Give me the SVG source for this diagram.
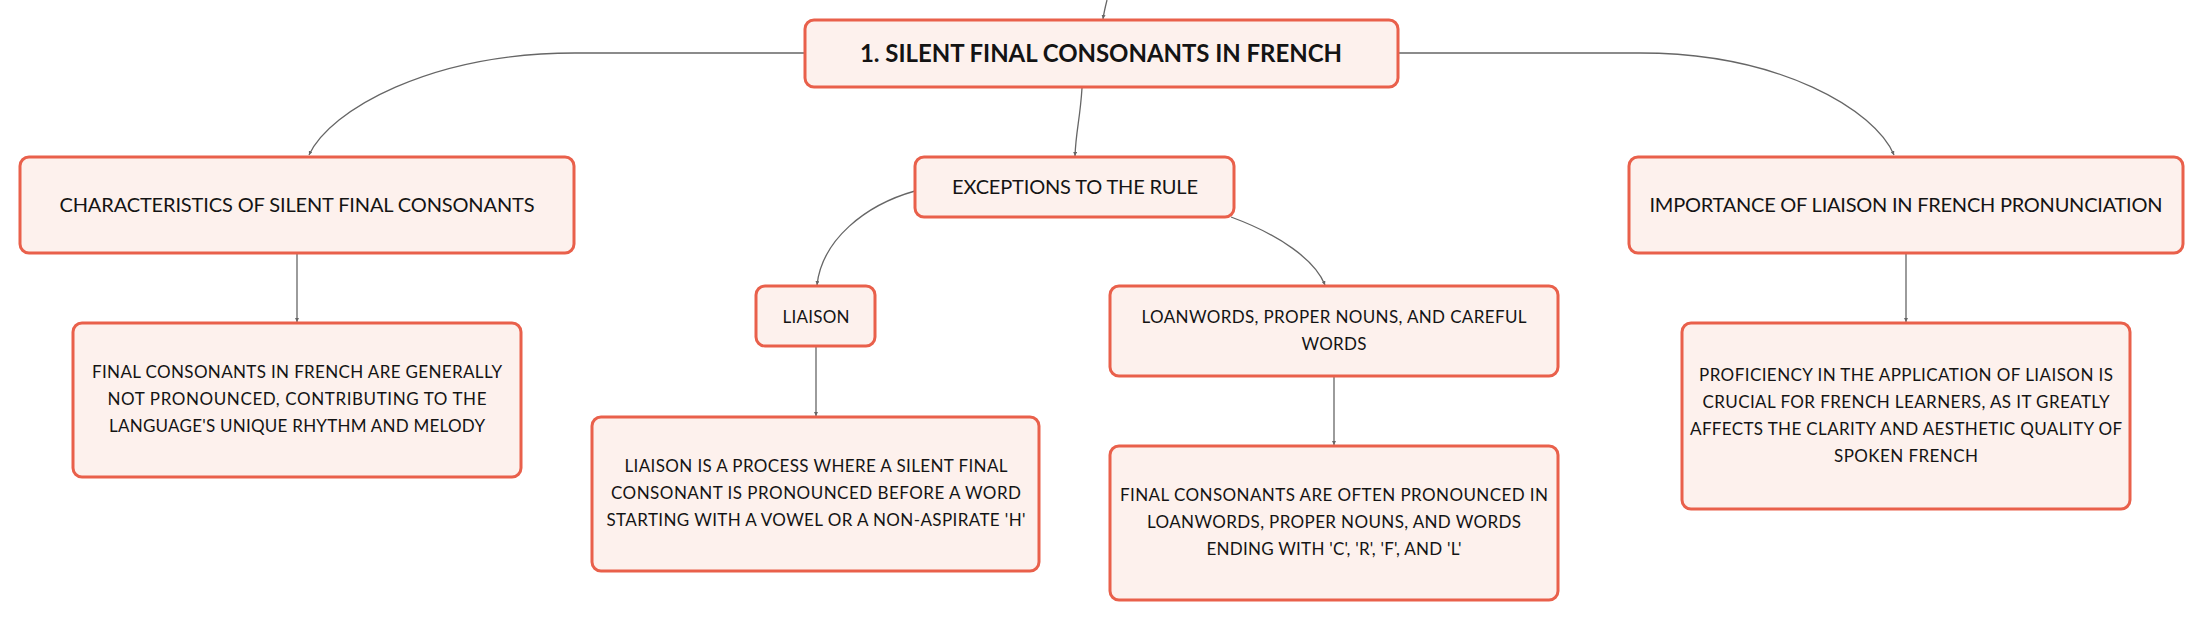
<svg xmlns="http://www.w3.org/2000/svg" width="2204" height="620" viewBox="0 0 2204 620">
<style>
.box{fill:#fdf1ed;stroke:#e9604b;stroke-width:3}
.t{font-family:Lato,"Noto Sans",sans-serif;fill:#141414;text-anchor:middle}
.title{font-size:24px;font-weight:700}
.l1{font-size:20px}
.b{font-size:17px}
.c{fill:none;stroke:#666;stroke-width:1.3;marker-end:url(#ah)}
</style>
<defs>
<marker id="ah" viewBox="0 0 6 6" refX="6" refY="3" markerWidth="4" markerHeight="4" orient="auto" markerUnits="userSpaceOnUse">
<path d="M0,0 L6,3 L0,6 z" fill="#666"/>
</marker>
</defs>
<rect width="2204" height="620" fill="#ffffff"/>
<g id="connectors">
<path class="c" d="M1107,0 C1105,8 1104,12 1103,19"/>
<path class="c" d="M805,53 H575 C430,53 330,110 309,155"/>
<path class="c" d="M1082,88 C1080,120 1076,130 1075,156"/>
<path class="c" d="M1398,53 H1640 C1780,53 1875,110 1894,155"/>
<path class="c" d="M297,253 V322"/>
<path class="c" d="M915,191 C865,205 822,240 817,285"/>
<path class="c" d="M1231,217 C1280,235 1315,260 1325,285"/>
<path class="c" d="M816,347 V416"/>
<path class="c" d="M1334,376 V445"/>
<path class="c" d="M1906,253 V322"/>
</g>
<g id="n-title">
<rect class="box" x="805" y="20" width="593" height="67" rx="9"/>
<text class="t title" x="1101" y="62" textLength="482">1. SILENT FINAL CONSONANTS IN FRENCH</text>
</g>
<g id="n-characteristics">
<rect class="box" x="20" y="157" width="554" height="96" rx="9"/>
<text class="t l1" x="297" y="212" textLength="475">CHARACTERISTICS OF SILENT FINAL CONSONANTS</text>
</g>
<g id="n-exceptions">
<rect class="box" x="915" y="157" width="319" height="60" rx="9"/>
<text class="t l1" x="1075" y="194" textLength="246">EXCEPTIONS TO THE RULE</text>
</g>
<g id="n-importance">
<rect class="box" x="1629" y="157" width="554" height="96" rx="9"/>
<text class="t l1" x="1906" y="212" textLength="513">IMPORTANCE OF LIAISON IN FRENCH PRONUNCIATION</text>
</g>
<g id="n-final-desc">
<rect class="box" x="73" y="323" width="448" height="154" rx="9"/>
<text class="t b" x="297" y="378" textLength="410">FINAL CONSONANTS IN FRENCH ARE GENERALLY</text>
<text class="t b" x="297" y="405" textLength="379">NOT PRONOUNCED, CONTRIBUTING TO THE</text>
<text class="t b" x="297" y="432" textLength="376">LANGUAGE'S UNIQUE RHYTHM AND MELODY</text>
</g>
<g id="n-liaison">
<rect class="box" x="756" y="286" width="119" height="60" rx="9"/>
<text class="t b" x="816" y="323" textLength="67">LIAISON</text>
</g>
<g id="n-liaison-desc">
<rect class="box" x="592" y="417" width="447" height="154" rx="9"/>
<text class="t b" x="816" y="472" textLength="383">LIAISON IS A PROCESS WHERE A SILENT FINAL</text>
<text class="t b" x="816" y="499" textLength="410">CONSONANT IS PRONOUNCED BEFORE A WORD</text>
<text class="t b" x="816" y="526" textLength="419">STARTING WITH A VOWEL OR A NON-ASPIRATE 'H'</text>
</g>
<g id="n-loanwords">
<rect class="box" x="1110" y="286" width="448" height="90" rx="9"/>
<text class="t b" x="1334" y="323" textLength="385">LOANWORDS, PROPER NOUNS, AND CAREFUL</text>
<text class="t b" x="1334" y="350" textLength="65">WORDS</text>
</g>
<g id="n-loanwords-desc">
<rect class="box" x="1110" y="446" width="448" height="154" rx="9"/>
<text class="t b" x="1334" y="501" textLength="428">FINAL CONSONANTS ARE OFTEN PRONOUNCED IN</text>
<text class="t b" x="1334" y="528" textLength="374">LOANWORDS, PROPER NOUNS, AND WORDS</text>
<text class="t b" x="1334" y="555" textLength="255">ENDING WITH 'C', 'R', 'F', AND 'L'</text>
</g>
<g id="n-importance-desc">
<rect class="box" x="1682" y="323" width="448" height="186" rx="9"/>
<text class="t b" x="1906" y="381" textLength="414">PROFICIENCY IN THE APPLICATION OF LIAISON IS</text>
<text class="t b" x="1906" y="408" textLength="407">CRUCIAL FOR FRENCH LEARNERS, AS IT GREATLY</text>
<text class="t b" x="1906" y="435" textLength="432">AFFECTS THE CLARITY AND AESTHETIC QUALITY OF</text>
<text class="t b" x="1906" y="462" textLength="144">SPOKEN FRENCH</text>
</g>
</svg>
